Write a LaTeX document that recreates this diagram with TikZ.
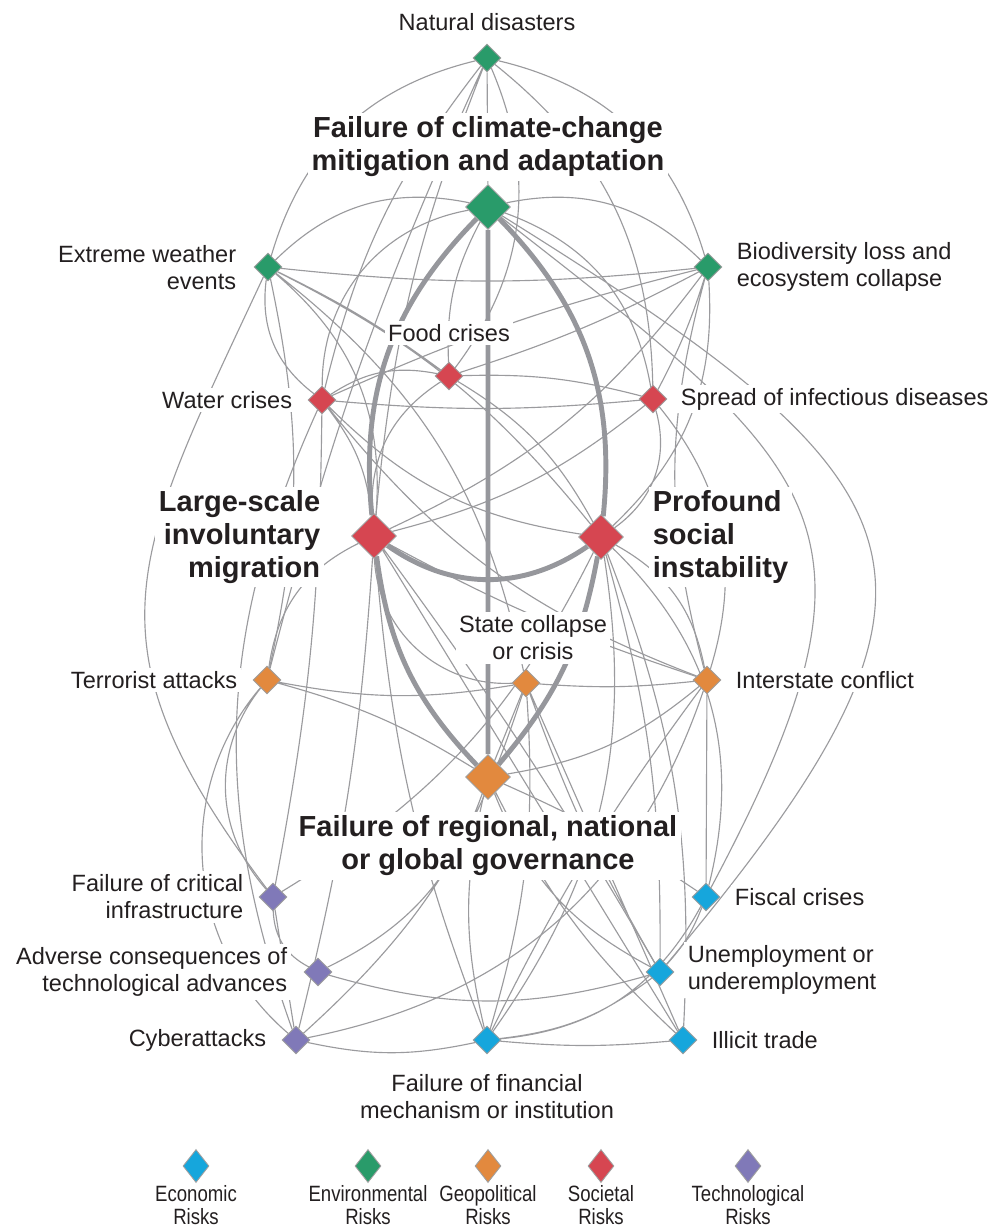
\documentclass[tikz,border=0pt]{standalone}
\usepackage{fontspec}
\setmainfont{Liberation Sans}
\newfontfamily\narrowfont[FakeStretch=0.84]{Liberation Sans}
\usepackage{xcolor}
\usepackage{tikz}
\usetikzlibrary{shapes.geometric}
\pgfdeclarelayer{bg}
\pgfsetlayers{bg,main}
\definecolor{econ}{RGB}{22,166,220}
\definecolor{envi}{RGB}{41,155,106}
\definecolor{geop}{RGB}{226,137,62}
\definecolor{soci}{RGB}{214,70,81}
\definecolor{tech}{RGB}{128,121,184}
\definecolor{linkgray}{RGB}{155,155,158}
\definecolor{thickgray}{RGB}{150,151,156}
\definecolor{txt}{RGB}{35,31,32}

\begin{document}
\begin{tikzpicture}[x=0.02cm,y=0.02cm]
	\useasboundingbox (0,0) rectangle (995,-1232);
	\tikzstyle{risk}=[diamond,draw=gray!75,line width=0.5pt,inner sep=0pt,minimum size=0.56cm]
	\tikzstyle{big}=[minimum size=0.9cm]
	\tikzstyle{env}=[risk,fill=envi]
	\tikzstyle{soc}=[risk,fill=soci]
	\tikzstyle{geo}=[risk,fill=geop]
	\tikzstyle{eco}=[risk,fill=econ]
	\tikzstyle{tec}=[risk,fill=tech]
	\tikzstyle{key}=[risk,minimum width=0.52cm,minimum height=0.66cm]
	\tikzstyle{lab}=[fill=white,inner sep=2pt,text=txt,font=\fontsize{13.4}{15.4}\selectfont]
	\tikzstyle{biglab}=[fill=white,inner sep=2pt,text=txt,font=\bfseries\fontsize{16.5}{18.8}\selectfont]
	\tikzstyle{leg}=[inner sep=0pt,text=txt,align=center,font=\narrowfont\fontsize{12.6}{13}\selectfont]
	\tikzstyle{link}=[linkgray,line width=0.65pt]
	\tikzstyle{strong}=[thickgray,line width=2.8pt]
	\node[env] (nd) at (487,-58) {};
	\node[env,big] (cc) at (488,-207) {};
	\node[env] (ew) at (268,-267) {};
	\node[env] (bd) at (708,-267) {};
	\node[soc] (fc) at (449,-376) {};
	\node[soc] (wc) at (322,-400) {};
	\node[soc] (id) at (653,-399) {};
	\node[soc,big] (mg) at (374,-536) {};
	\node[soc,big] (si) at (601,-537) {};
	\node[geo] (ta) at (267,-680) {};
	\node[geo] (sc) at (526,-683) {};
	\node[geo] (ic) at (707,-680) {};
	\node[geo,big] (gv) at (488,-777) {};
	\node[tec] (ci) at (273,-897) {};
	\node[tec] (ad) at (318,-972) {};
	\node[tec] (cy) at (296,-1040) {};
	\node[eco] (fi) at (706,-897) {};
	\node[eco] (un) at (660,-972) {};
	\node[eco] (fm) at (487,-1040) {};
	\node[eco] (it) at (683,-1040) {};
	\begin{pgfonlayer}{bg}
	\draw[link]	(nd)--(cc) (nd) to[bend right=30] (ew) (nd) to[bend right=12] (wc) (nd) to[bend right=8] (mg)
			(nd) to[bend right=5] (ta) (nd) to[bend left=30] (fc) (nd) to[bend left=25] (id) (nd) to[bend left=30] (bd);
	\draw[link]	(cc) to[bend right=28] (ew) (cc) to[bend left=28] (bd) (cc) to[bend right=15] (fc) (cc) to[bend right=40] (wc)
			(cc) to[bend left=30] (id) (cc) to[out=-38,in=62,looseness=1.5] (fi) (cc) to[out=-32,in=50,looseness=1.7] (un);
	\draw[link]	(ew) to[bend right=6] (bd) (ew) to[bend left=5] (fc) (ew) to[bend right=30] (wc) (ew) to[bend left=27] (mg)
			(ew) to[bend left=12] (si) (ew) to[bend left=20] (sc) (ew) to[bend left=12] (ta) (ew) to[out=-115,in=127,looseness=1.3] (ci);
	\draw[link]	(bd) to[bend left=5] (id) (bd) to[bend left=25] (si) (bd) to[bend left=5] (fc) (wc) to[bend left=5] (bd)
			(bd) to[bend left=14] (mg) (bd) to[bend right=15] (ic) (id) to[bend left=28] (ic) (id) to[bend left=35] (si);
	\draw[link]	(wc) to[bend left=22] (fc) (fc) to[bend left=8] (id) (fc) to[bend left=15] (si) (fc) to[bend right=30] (mg)
			(wc) to[bend right=5] (id) (wc) to[bend left=5] (ci) (wc) to[bend left=15] (mg) (wc) to[bend right=18] (si)
			(wc) to[bend right=15] (ic) (wc) to[bend right=22] (cy);
	\draw[link]	(mg) to[bend right=12] (id) (mg) to[bend right=45] (sc) (mg) to[bend left=3] (un) (mg)--(it)
			(mg) to[bend right=28] (ta) (mg) to[bend right=5] (ic);
	\draw[link]	(ta) to[bend right=10] (sc) (ta) to[bend left=8] (gv) (ta) to[bend right=45] (cy) (ta) to[bend right=40] (ci)
			(ci)--(cy) (ci) to[bend right=30] (ad);
	\draw[link]	(cy) to[bend right=12] (fm) (cy) to[bend right=5] (mg) (cy) to[bend right=15] (sc) (cy) to[bend right=30] (ic)
			(ad) to[bend right=16] (un) (ad) to[bend right=22] (gv);
	\draw[link]	(fm) to[bend right=5] (it) (fm) to[bend right=28] (fi) (fm) to[bend right=15] (un) (fm) to[bend left=13] (gv)
			(fm) to[bend right=10] (sc) (fm) to[bend right=22] (si) (fm) to[bend left=8] (mg);
	\draw[link]	(sc)--(it) (sc) to[bend right=5] (un) (sc)--(gv) (sc) to[bend right=5] (ic)
			(si) to[bend left=25] (ic) (si) to[bend left=8] (un) (si) to[bend left=12] (it) (si) to[bend left=30] (fi)
			(si) to[bend left=16] (ci);
	\draw[link]	(gv) to[bend right=15] (ic) (gv) to[bend left=5] (fi) (gv) to[bend right=20] (un) (gv) to[bend right=10] (it)
			(ic) to[bend right=5] (fm) (ic)--(fi) (un) to[bend right=10] (fi);
	\draw[strong]	(cc) to[bend right=25] (mg) (cc) to[bend left=25] (si) (cc)--(gv)
			(mg) to[bend right=35] (si) (mg) to[bend right=18] (gv) (si) to[bend left=15] (gv);
	\end{pgfonlayer}
	\node[lab] (ndt) at (487,-22) {Natural disasters};
	\node[biglab,align=center] (cct) at (488,-147) {Failure of climate-change\\mitigation and adaptation};
	\node[lab,anchor=east,align=right] (ewt) at (240,-268) {Extreme weather\\events};
	\node[lab,anchor=west,align=left] (bdt) at (733,-267) {Biodiversity loss and\\ecosystem collapse};
	\node[lab] (fct) at (449,-333) {Food crises};
	\node[lab,anchor=east] (wct) at (296,-400) {Water crises};
	\node[lab,anchor=west] (idt) at (677,-399) {Spread of infectious diseases};
	\node[biglab,anchor=east,align=right] (mgt) at (324,-537) {Large-scale\\involuntary\\migration};
	\node[biglab,anchor=west,align=left] (sit) at (649,-537) {Profound\\social\\instability};
	\node[lab,align=center] (sct) at (533,-638) {State collapse\\or crisis};
	\node[lab,anchor=east] (tat) at (241,-680) {Terrorist attacks};
	\node[lab,anchor=west] (ict) at (732,-680) {Interstate conflict};
	\node[biglab,align=center] (gvt) at (488,-846) {Failure of regional, national\\or global governance};
	\node[lab,anchor=east,align=right] (cit) at (247,-897) {Failure of critical\\infrastructure};
	\node[lab,anchor=west] (fit) at (731,-897) {Fiscal crises};
	\node[lab,anchor=east,align=right] (adt) at (291,-972) {Adverse consequences of\\technological advances};
	\node[lab,anchor=west,align=left] (unt) at (684,-970) {Unemployment or\\underemployment};
	\node[lab,anchor=east] (cyt) at (270,-1040) {Cyberattacks};
	\node[lab,anchor=west] (itt) at (708,-1040) {Illicit trade};
	\node[lab,align=center] (fmt) at (487,-1097) {Failure of financial\\mechanism or institution};
	\node[key,fill=econ] (k1) at (196,-1166) {};
	\node[key,fill=envi] (k2) at (368,-1166) {};
	\node[key,fill=geop] (k3) at (488,-1166) {};
	\node[key,fill=soci] (k4) at (601,-1166) {};
	\node[key,fill=tech] (k5) at (748,-1166) {};
	\node[leg] (k1t) at (196,-1205) {Economic\\Risks};
	\node[leg] (k2t) at (368,-1205) {Environmental\\Risks};
	\node[leg] (k3t) at (488,-1205) {Geopolitical\\Risks};
	\node[leg] (k4t) at (601,-1205) {Societal\\Risks};
	\node[leg] (k5t) at (748,-1205) {Technological\\Risks};
\end{tikzpicture}
\end{document}
